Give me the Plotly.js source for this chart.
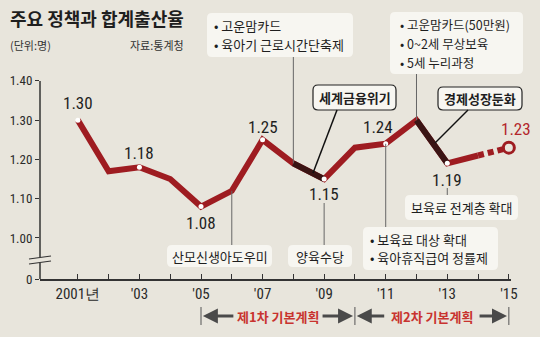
<!DOCTYPE html>
<html><head><meta charset="utf-8">
<script src="https://cdn.plot.ly/plotly-3.0.1.min.js"></script>
<style>html,body{margin:0;padding:0;background:#e8e5dc;}#chart{width:540px;height:337px;}</style>
</head><body><div id="chart"></div>
<script>
// ---- data ----
const years = [2001,2002,2003,2004,2005,2006,2007,2008,2009,2010,2011,2012,2013,2014,2015];
const rates = [1.30,1.17,1.18,1.15,1.08,1.12,1.25,1.19,1.15,1.23,1.24,1.30,1.19,1.21,1.23];
const labeledYears = [2001,2003,2005,2007,2009,2011,2013];
const darkSpans = [[2008,2009],[2012,2013]];
const projectedFrom = 2014;
const yTickVals = [1.00,1.10,1.20,1.30,1.40];
const xLabelYears = [2001,2003,2005,2007,2009,2011,2013,2015];
const xLabelText = ['2001년',"'03","'05","'07","'09","'11","'13","'15"];

// ---- helpers ----
const val = y => rates[years.indexOf(y)];
const slice = (a,b) => { const i=years.indexOf(a), j=years.indexOf(b); return {x:years.slice(i,j+1), y:rates.slice(i,j+1)}; };
const W=540,H=337, L=40, R=29, T=0, B=58;
const PX = px => (px-L)/(W-L-R);
const PY = py => (H-B-py)/(H-T-B);
const YMIN=0.8955, YMAX=1.606, XMIN=1999.77, XMAX=2015.07;
const vAt = py => YMAX - py*(YMAX-YMIN)/(H-T-B);
const yrAt = px => XMIN + (px-L)*(XMAX-XMIN)/(W-L-R);

const RED='#9e1c21', DARK='#3a1414', BG='#e8e5dc', BOX='#f7f6f1';
const KR='"Noto Sans CJK KR", "Noto Sans", sans-serif';
const NUM='"Liberation Sans Narrow", "Roboto Condensed", "Arial Narrow", "Liberation Sans", sans-serif';

const traces = [];
const solid = slice(years[0], projectedFrom);
traces.push({x:solid.x, y:solid.y, mode:'lines', line:{color:RED, width:6}, hoverinfo:'skip'});
darkSpans.forEach(s=>{ const d=slice(s[0],s[1]); traces.push({x:d.x,y:d.y,mode:'lines',line:{color:DARK,width:6},hoverinfo:'skip'}); });
const proj = slice(projectedFrom, years[years.length-1]);
traces.push({x:proj.x, y:proj.y, mode:'lines', line:{color:RED, width:6, dash:'6px,4px'}, hoverinfo:'skip'});
traces.push({x:labeledYears, y:labeledYears.map(val), mode:'markers', marker:{color:'#ffffff', size:5, line:{width:0}}, hoverinfo:'skip'});
const lastY = years[years.length-1];
traces.push({x:[lastY], y:[val(lastY)], mode:'markers', cliponaxis:false, marker:{color:BG, size:11, line:{color:RED,width:3}}, hoverinfo:'skip'});

// value labels
const labelOffsets = {2001:[0,17],2003:[0,14],2005:[0,-16],2007:[0,13],2009:[0,-15],2011:[-8,17],2013:[0,-17],2015:[7,19]};
const annotations = [];
const shapes = [];
Object.keys(labelOffsets).forEach(k=>{
  const y=+k, o=labelOffsets[k];
  annotations.push({x:y, y:val(y), xref:'x', yref:'y', text:val(y).toFixed(2), showarrow:false,
    xshift:o[0], yshift:o[1], font:{family:NUM, size:17, color: y===lastY? '#b3262b':'#1e1e1e'}});
});

// title & notes
annotations.push({xref:'paper', yref:'paper', x:PX(8), y:PY(18), xanchor:'left', yanchor:'middle', showarrow:false,
  text:'<b>주요 정책과 합계출산율</b>', font:{family:KR, size:18, color:'#1e1e1e'}});
annotations.push({xref:'paper', yref:'paper', x:PX(8), y:PY(45), xanchor:'left', yanchor:'middle', showarrow:false,
  text:'(단위:명)', font:{family:KR, size:11, color:'#333'}});
annotations.push({xref:'paper', yref:'paper', x:PX(186), y:PY(45), xanchor:'right', yanchor:'middle', showarrow:false,
  text:'자료:통계청', font:{family:KR, size:11, color:'#333'}});

// policy boxes: rounded rect shape + one annotation per line
function rr(x0,y0,x1,y1,r){
  const X=PX, Y=PY;
  return 'M'+X(x0+r)+','+Y(y0)+' L'+X(x1-r)+','+Y(y0)+' Q'+X(x1)+','+Y(y0)+' '+X(x1)+','+Y(y0+r)+
    ' L'+X(x1)+','+Y(y1-r)+' Q'+X(x1)+','+Y(y1)+' '+X(x1-r)+','+Y(y1)+
    ' L'+X(x0+r)+','+Y(y1)+' Q'+X(x0)+','+Y(y1)+' '+X(x0)+','+Y(y1-r)+
    ' L'+X(x0)+','+Y(y0+r)+' Q'+X(x0)+','+Y(y0)+' '+X(x0+r)+','+Y(y0)+' Z';
}
function box(b){
  shapes.push({type:'path', xref:'paper', yref:'paper', path:rr(b.x0,b.y0,b.x1,b.y1,5), fillcolor:BOX,
    line:{color: b.border? '#222':'rgba(0,0,0,0)', width: b.border?1.2:0}, layer:'above'});
  const n=b.lines.length, step=b.step||18, cy=(b.y0+b.y1)/2;
  b.lines.forEach((t,i)=>{
    const py = cy + (i-(n-1)/2)*step;
    const left = b.tx!==undefined;
    annotations.push({xref:'paper', yref:'paper', x:PX(left? b.tx : (b.x0+b.x1)/2), y:PY(py),
      xanchor: left?'left':'center', yanchor:'middle', showarrow:false,
      text: b.bold? '<b>'+t+'</b>' : t, font:{family:KR, size:b.size||13, color:'#1e1e1e'}});
  });
}
box({x0:207,y0:13,x1:353,y1:57, tx:212, lines:['• 고운맘카드','• 육아기 근로시간단축제']});
box({x0:313,y0:85,x1:396,y1:110, bold:true, border:true, lines:['세계금융위기']});
box({x0:390,y0:12,x1:523,y1:74, tx:398, step:19, size:12.5, lines:['• 고운맘카드(50만원)','• 0~2세 무상보육','• 5세 누리과정']});
box({x0:438,y0:87,x1:522,y1:110, bold:true, border:true, lines:['경제성장둔화']});
box({x0:167,y0:245,x1:272,y1:267, lines:['산모신생아도우미']});
box({x0:288,y0:245,x1:352,y1:267, lines:['양육수당']});
box({x0:363,y0:227,x1:498,y1:270, tx:368, lines:['• 보육료 대상 확대','• 육아휴직급여 정률제']});
box({x0:405,y0:195,x1:518,y1:220, lines:['보육료 전계층 확대']});

// connectors
function seg(x0,y0,x1,y1,color,width){ shapes.push({type:'line', xref:'x', yref:'y', x0:x0,y0:y0,x1:x1,y1:y1, line:{color:color,width:width}}); }
seg(2006, val(2006), 2006, vAt(245), '#666', 1);
seg(2008, vAt(57), 2008, val(2008), '#666', 1);
seg(2009, vAt(203), 2009, vAt(245), '#666', 1);
seg(2011, val(2011), 2011, vAt(227), '#666', 1);
seg(2012, vAt(74), 2012, val(2012), '#666', 1);
seg(2013, vAt(188), 2013, vAt(195), '#666', 1);
seg(yrAt(337), vAt(110), yrAt(313), vAt(173), '#111', 1.5);
seg(yrAt(468), vAt(110), yrAt(435), vAt(143), '#111', 1.5);

// y axis line with break
shapes.push({type:'line', xref:'paper', yref:'y', x0:0, x1:0, y0:1.40, y1:vAt(257), line:{color:'#333', width:1.5}});
shapes.push({type:'line', xref:'paper', yref:'y', x0:0, x1:0, y0:vAt(263), y1:YMIN, line:{color:'#333', width:1.5}});
shapes.push({type:'line', xref:'paper', yref:'paper', x0:PX(29), x1:PX(51), y0:PY(259), y1:PY(256), line:{color:'#333', width:1.2}});
shapes.push({type:'line', xref:'paper', yref:'paper', x0:PX(29), x1:PX(51), y0:PY(264), y1:PY(261), line:{color:'#333', width:1.2}});

// plan rows
const plans = [{name:'제1차 기본계획', from:2005, to:2010, half:1.4},{name:'제2차 기본계획', from:2010, to:2015, half:1.5}];
const planPy = 316;
plans.forEach(p=>{
  const mid=(p.from+p.to)/2;
  annotations.push({xref:'x', yref:'paper', x:mid, y:PY(planPy), showarrow:false, yanchor:'middle',
    text:'<b>'+p.name+'</b>', font:{family:KR, size:13, color:'#c8332f'}});
  [[mid-p.half, p.from+0.06],[mid+p.half, p.to-0.06]].forEach(a=>{
    annotations.push({xref:'x', yref:'paper', x:a[1], y:PY(planPy), axref:'x', ax:a[0], ayref:'pixel', ay:0,
      text:'', showarrow:true, arrowhead:2, arrowsize:1, arrowwidth:3, arrowcolor:'#4a4a4a', standoff:0, startstandoff:0});
  });
});
[2005,2010,2015].forEach(y=>shapes.push({type:'line', xref:'x', yref:'paper', x0:y, x1:y, y0:PY(307), y1:PY(325), line:{color:'#555', width:1}}));

const layout = {
  width:W, height:H, margin:{l:L, r:R, t:T, b:B},
  paper_bgcolor:BG, plot_bgcolor:BG, showlegend:false,
  xaxis:{range:[XMIN,XMAX], tickvals:years, ticktext:years.map(y=>{const i=xLabelYears.indexOf(y); return i>=0?xLabelText[i]:'';}),
    ticks:'inside', ticklen:5, tickwidth:1, tickcolor:'#333', showline:true, linecolor:'#333', linewidth:1.5,
    showgrid:false, zeroline:false, tickfont:{family:NUM, size:15, color:'#2a2a2a'}, fixedrange:true},
  yaxis:{range:[YMIN,YMAX], tickvals:[YMIN].concat(yTickVals), ticktext:['0'].concat(yTickVals.map(v=>v.toFixed(2))),
    ticks:'outside', ticklen:4, tickcolor:'#333', showline:false, showgrid:false, zeroline:false,
    tickfont:{family:NUM, size:13, color:'#2a2a2a'}, fixedrange:true},
  annotations:annotations, shapes:shapes
};
Plotly.newPlot('chart', traces, layout, {staticPlot:true, displayModeBar:false});
</script></body></html>
